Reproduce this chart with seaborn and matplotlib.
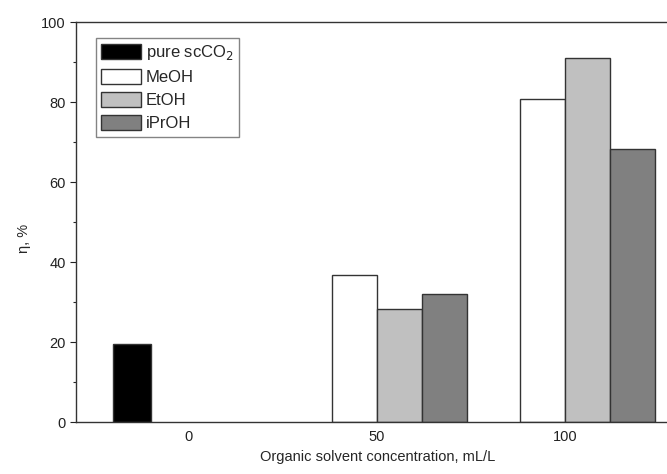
import numpy as np
import pandas as pd
import matplotlib
matplotlib.use("Agg")
import matplotlib.pyplot as plt
import seaborn as sns

# data
concentrations = ["0", "50", "100"]
solvents = ["pure scCO$_2$", "MeOH", "EtOH", "iPrOH"]
eta_scco2 = [19.5, np.nan, np.nan]
eta_meoh = [np.nan, 36.7, 80.8]
eta_etoh = [np.nan, 28.2, 91.0]
eta_iproh = [np.nan, 32.0, 68.2]
bar_colors = ["#000000", "#ffffff", "#c0c0c0", "#808080"]

df = pd.DataFrame({
    "conc": concentrations * 4,
    "solvent": np.repeat(solvents, len(concentrations)),
    "eta": eta_scco2 + eta_meoh + eta_etoh + eta_iproh,
})
pure = df[df["solvent"] == solvents[0]]
mixed = df[df["solvent"] != solvents[0]]

sns.set_style("ticks")
plt.rcParams["font.family"] = ["Liberation Sans", "DejaVu Sans"]
plt.rcParams["font.size"] = 10

fig = plt.figure(figsize=(6.67, 4.74), dpi=100)
ax = fig.add_axes([76 / 667, 52 / 474, 604 / 667, 400 / 474])

# the pure scCO2 bar is a bit narrower than the co-solvent bars
common = dict(x="conc", y="eta", hue="solvent", order=concentrations,
              hue_order=solvents, palette=bar_colors, dodge=True,
              edgecolor="#333333", linewidth=1.0, errorbar=None, ax=ax)
sns.barplot(data=pure, width=0.81, **common)
sns.barplot(data=mixed, width=0.96, **common)

ax.set_xlim(-0.601, 2.612)
ax.set_ylim(0, 100)
ax.set_yticks(np.arange(0, 101, 20))
ax.set_yticks(np.arange(10, 100, 20), minor=True)
ax.tick_params(axis="x", length=0, pad=6, labelsize=10.5, colors="#222222")
ax.tick_params(axis="y", which="major", length=4.5, width=0.8, pad=3,
               labelsize=10.5, colors="#222222", direction="out")
ax.tick_params(axis="y", which="minor", length=2.5, width=0.8, direction="out")

for side in ["left", "bottom", "top", "right"]:
    ax.spines[side].set_visible(True)
    ax.spines[side].set_color("#333333")
    ax.spines[side].set_linewidth(1.0)

ax.set_xlabel("Organic solvent concentration, mL/L", fontsize=10.5, labelpad=4)
ax.set_ylabel("η, %", fontsize=10.5)
ax.yaxis.set_label_coords(-0.074, 0.46)

handles, labels = ax.get_legend_handles_labels()
seen = {}
for h, l in zip(handles, labels):
    seen.setdefault(l, h)
ax.legend([seen[s] for s in solvents], solvents, loc="upper left",
          bbox_to_anchor=(0.033, 0.96), frameon=True, fancybox=False,
          edgecolor="#666666", fontsize=12, handlelength=2.4,
          handleheight=1.0, handletextpad=0.3, borderpad=0.3,
          labelspacing=0.42, borderaxespad=0)

fig.savefig("out.png", dpi=100)
